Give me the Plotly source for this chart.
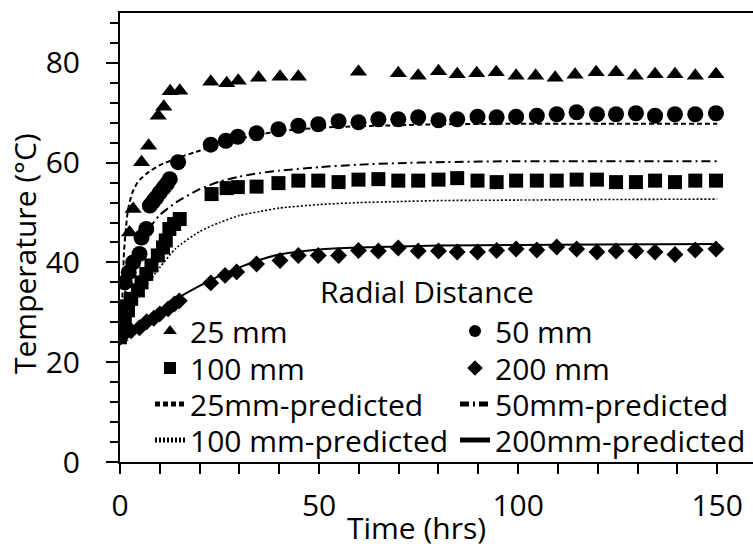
import plotly.graph_objects as go

# ---------------- data ----------------
t25 = [0, 0.5, 1.0, 2.4, 3.3, 5.4, 7.2, 9.6, 11.0, 12.6, 15.0, 22.8, 26.8, 29.7, 34.8, 40.2, 44.8,
       59.9, 69.9, 74.9, 80.0, 84.7, 89.6, 94.5, 99.5, 104.4, 109.3, 114.3, 119.6, 124.6, 129.4,
       134.4, 139.4, 144.5, 149.7]
y25 = [25, 30, 36, 46, 50.7, 60.1, 63.4, 69.4, 71.2, 74.3, 74.4, 76.2, 75.9, 76.4, 77.0, 77.2, 77.2,
       78.2, 77.9, 77.4, 78.3, 77.7, 77.9, 78.1, 77.4, 77.4, 77.0, 77.6, 78.1, 78.1, 77.4,
       77.7, 77.7, 77.4, 77.7]

t50 = [0, 0.5, 1.2, 2.2, 3.3, 4.9, 5.4, 6.6, 7.5, 8.3, 9.1, 10.0, 11.0, 11.8, 12.5, 14.6,
       22.8, 26.6, 29.6, 34.3, 39.8, 44.8, 49.8, 54.9, 59.9,
       64.9, 69.9, 74.9, 80.0, 84.7, 89.8, 94.6, 99.5, 104.7, 109.7, 114.7, 119.8, 124.6, 129.6,
       134.4, 139.4, 144.5, 149.7]
y50 = [27, 31, 36, 38, 40, 41.7, 45, 46.7, 51.4, 52.2, 53, 54, 55, 55.8, 56.7, 60.1,
       63.6, 64.4, 65.2, 65.9, 66.7, 67.4, 67.7, 68.3, 68.1,
       68.7, 68.7, 69.1, 68.5, 68.7, 69.2, 69.1, 69.2, 69.4, 69.7, 70.1, 69.7, 69.7, 69.9,
       69.4, 69.7, 69.7, 69.9]

t100 = [0, 0.5, 1.2, 2.0, 2.8, 4.5, 5.4, 6.6, 7.9, 9.5, 10.8, 11.5, 12.4, 13.6, 15.0,
        23.0, 26.8, 29.6, 34.3, 39.8, 44.8, 49.8, 54.9, 59.9,
        64.9, 69.9, 74.9, 80.0, 84.7, 89.8, 94.6, 99.5, 104.7, 109.7, 114.7, 119.8, 124.6, 129.6,
        134.4, 139.4, 144.5, 149.7]
y100 = [25, 27, 28.4, 30.4, 32.7, 34.4, 36, 37.7, 39.4, 41.4, 43, 44.4, 46.7, 47.7, 48.7,
        53.7, 54.9, 55.1, 55.2, 55.9, 56.4, 56.4, 56.1, 56.6,
        56.7, 56.4, 56.4, 56.6, 56.9, 56.4, 56.1, 56.4, 56.4, 56.4, 56.6, 56.6, 56.1, 56.1,
        56.4, 56.1, 56.4, 56.4]

t200 = [0, 0.75, 2.8, 4.9, 6.7, 8.5, 10.0, 12.1, 13.7, 14.9,
        22.8, 26.4, 29.3, 34.3, 40.2, 44.8, 49.8, 54.9, 59.9,
        64.9, 69.9, 74.9, 80.0, 84.7, 89.8, 94.6, 99.5, 104.7, 109.7, 114.7, 119.8, 124.6, 129.6,
        134.4, 139.4, 144.5, 149.7]
y200 = [25, 25.4, 26.3, 26.9, 28.1, 28.8, 29.7, 30.7, 31.7, 32.3,
        35.9, 37.4, 38.1, 39.7, 40.4, 41.4, 41.4, 41.4, 42.4,
        42.3, 42.9, 42.3, 42.3, 42.1, 42.1, 42.4, 42.7, 42.5, 43.1, 42.7, 42.1, 42.3, 42.3,
        42.1, 41.6, 42.5, 42.7]

tp = [0, 0.5, 1, 1.5, 2, 3, 4, 5, 7, 10, 14, 20, 25, 30, 35, 40, 50, 60, 70, 80, 100, 120, 150]
p25 = [25, 31, 42, 47, 50.5, 53.8, 55.5, 56.6, 58, 59.5, 60.8, 62.4, 63.7, 64.8, 65.6, 66.3, 67,
       67.3, 67.5, 67.7, 67.8, 67.8, 67.8]
p50 = [25, 28, 32, 35, 37.5, 40.5, 42.5, 44, 46.5, 49.5, 52, 54.7, 56.2, 57.2, 57.9, 58.4, 59.1,
       59.6, 59.9, 60.1, 60.3, 60.3, 60.3]
p100 = [25, 26, 27, 28, 29, 30.5, 32, 33.3, 35.8, 39, 42.8, 46.2, 48, 49.4, 50.2, 50.9, 51.6,
        52, 52.2, 52.4, 52.5, 52.6, 52.7]
p200 = [25, 25.2, 25.4, 25.6, 25.8, 26.3, 26.7, 27.2, 28.3, 30.1, 32.6, 35.3, 37.3, 39.0, 40.5,
        41.6, 42.6, 43.0, 43.2, 43.4, 43.5, 43.6, 43.7]

names = ["25 mm", "50 mm", "100 mm", "200 mm",
         "25mm-predicted", "50mm-predicted", "100 mm-predicted", "200mm-predicted"]

# ---------------- figure ----------------
FONT = "Open Sans"
fig = go.Figure()

meas = [(t25, y25, "triangle-up", 15), (t50, y50, "circle", 16),
        (t100, y100, "square", 14), (t200, y200, "diamond", 13)]
for i, (tx, ty, sym, sz) in enumerate(meas):
    fig.add_trace(go.Scatter(x=tx, y=ty, mode="markers", name=names[i],
                             marker=dict(symbol=sym, size=sz, color="black"),
                             legend="legend" if i == 0 else f"legend{i+1}"))

preds = [(p25, "5px,3px", 2), (p50, "9px,4px,2px,4px", 2),
         (p100, "2px,2px", 1.6), (p200, "solid", 2)]
for j, (py, dash, w) in enumerate(preds):
    fig.add_trace(go.Scatter(x=tp, y=py, mode="lines", name=names[4 + j],
                             line=dict(color="black", dash=dash, width=w, shape="spline", smoothing=0.6),
                             legend=f"legend{j+5}"))

# plot area geometry: x0 at 120px, width 633; y from 13 to 462
L, R, T, B = 120, 0, 13, 86
W, H = 753, 548
pw, ph = W - L - R, H - T - B

def px2x(px):
    return (px - L) / pw

def px2y(py):
    return (H - B - py) / ph

col_x = [150, 455]
row_y = [331, 368, 404, 440]
layout_leg = {}
for k in range(8):
    if k < 4:
        r, c = k // 2, k % 2
    else:
        r, c = 2 + (k - 4) // 2, (k - 4) % 2
    key = "legend" if k == 0 else f"legend{k+1}"
    layout_leg[key] = dict(x=px2x(col_x[c]), y=px2y(row_y[r]), xanchor="left", yanchor="middle",
                           bgcolor="rgba(0,0,0,0)", font=dict(family=FONT, size=30, color="black"),
                           itemsizing="constant", orientation="h")

fig.update_layout(
    width=W, height=H,
    margin=dict(l=L, r=R, t=T, b=B, pad=0),
    paper_bgcolor="white", plot_bgcolor="white",
    font=dict(family=FONT, size=30, color="black"),
    showlegend=True,
    **layout_leg,
)

fig.update_xaxes(range=[0, 159], showgrid=False, zeroline=False,
                 showline=True, linecolor="black", linewidth=2, mirror=True,
                 ticks="outside", tickcolor="black", ticklen=10, tickwidth=2,
                 tickvals=[0, 50, 100, 150], ticklabelstandoff=6,
                 minor=dict(dtick=10, tick0=0, ticks="outside", ticklen=10, tickwidth=2,
                            tickcolor="black", showgrid=False),
                 tickfont=dict(family=FONT, size=30, color="black"))
fig.update_yaxes(range=[0, 90], showgrid=False, zeroline=False,
                 showline=True, linecolor="black", linewidth=2,
                 ticks="outside", tickcolor="black", ticklen=12, tickwidth=2,
                 tickvals=[0, 20, 40, 60, 80], ticklabelstandoff=20,
                 minor=dict(dtick=4, tick0=0, ticks="outside", ticklen=8, tickwidth=2,
                            tickcolor="black", showgrid=False),
                 tickfont=dict(family=FONT, size=30, color="black"))

fig.add_annotation(text="Time (hrs)", x=px2x(416), y=px2y(527), xref="paper", yref="paper",
                   xanchor="center", yanchor="middle", showarrow=False,
                   font=dict(family=FONT, size=30, color="black"))
fig.add_annotation(text="Temperature (°C)", x=px2x(24), y=px2y(253), xref="paper", yref="paper",
                   xanchor="center", yanchor="middle", showarrow=False, textangle=-90,
                   font=dict(family=FONT, size=30, color="black"))
fig.add_annotation(text="Radial Distance", x=px2x(427), y=px2y(291), xref="paper", yref="paper",
                   xanchor="center", yanchor="middle", showarrow=False,
                   font=dict(family=FONT, size=30, color="black"))

fig.write_html("out.html")
